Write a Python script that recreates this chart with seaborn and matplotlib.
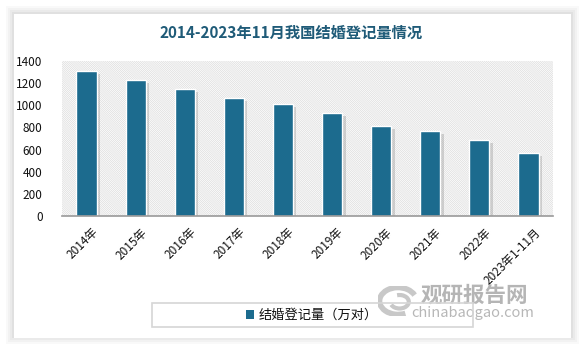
import matplotlib
matplotlib.use("Agg")
import matplotlib.pyplot as plt
import matplotlib.patheffects as pe
import matplotlib.transforms as mtransforms
from matplotlib.patches import Rectangle, Arc
import seaborn as sns
import pandas as pd

years = ["2014年", "2015年", "2016年", "2017年", "2018年", "2019年",
         "2020年", "2021年", "2022年", "2023年1-11月"]
marriages = [1306.7, 1224.7, 1142.8, 1063.1, 1013.9, 927.3, 814.3, 764.3, 683.5, 569.0]
series_name = "结婚登记量（万对）"
title = "2014-2023年11月我国结婚登记量情况"
yticks = [0, 200, 400, 600, 800, 1000, 1200, 1400]

df = pd.DataFrame({"year": years, "value": marriages})

sns.set_theme(style="white")
plt.rcParams["font.family"] = ["Noto Sans CJK SC", "DejaVu Sans"]
plt.rcParams["hatch.color"] = "#dcdcdc"
plt.rcParams["hatch.linewidth"] = 0.5

W, H = 583, 349
fig = plt.figure(figsize=(W / 100, H / 100), dpi=100)
fig.patch.set_facecolor("white")

# card with soft shadow
for i, a in enumerate([0.05, 0.07, 0.09, 0.12]):
    d = (4 - i) * 2
    fig.patches.append(Rectangle(((14 - d) / W, (H - 340 - d + 4) / H), (557 + 2 * d) / W,
                                 (326 + 2 * d - 4) / H, transform=fig.transFigure,
                                 facecolor="#9a9a9a", edgecolor="none", alpha=a, zorder=0))
fig.patches.append(Rectangle((14 / W, (H - 338) / H), 557 / W, 324 / H,
                             transform=fig.transFigure, facecolor="white",
                             edgecolor="none", zorder=1))

ax = fig.add_axes([62 / W, 1 - 216 / H, 491 / W, 155 / H])
ax.set_zorder(2)
ax.patch.set_alpha(0)

# hatched background
ax.add_patch(Rectangle((0, 0), 1, 1, transform=ax.transAxes, facecolor="white",
                       hatch="\\" * 16, edgecolor="#dcdcdc", linewidth=0, zorder=0))

bar_color = "#1c6b8e"
sns.barplot(data=df, x="year", y="value", color=bar_color, width=0.41,
            edgecolor="white", linewidth=1.0, label=series_name, ax=ax,
            saturation=1, zorder=3)
for p in ax.patches[1:]:
    p.set_path_effects([pe.SimplePatchShadow(offset=(2.5, -2), shadow_rgbFace="#808080",
                                             alpha=0.3), pe.Normal()])

ax.set_xlim(-0.5, len(years) - 0.5)
ax.set_ylim(0, 1400)
ax.set_yticks(yticks)
ax.set_yticklabels([str(v) for v in yticks], fontsize=8.5, color="#111111")
ax.tick_params(axis="y", length=0, pad=14)
ax.tick_params(axis="x", length=0, pad=7)
ax.set_xticks(range(len(years)))
ax.set_xticklabels(years, rotation=45, ha="right", va="top", rotation_mode="anchor",
                   fontsize=8.5, color="#111111")
shift = mtransforms.ScaledTranslation(5 / 100, 0, fig.dpi_scale_trans)
for lab in ax.get_xticklabels():
    lab.set_transform(lab.get_transform() + shift)
ax.set_xlabel("")
ax.set_ylabel("")
for s in ["left", "right", "top"]:
    ax.spines[s].set_visible(False)
ax.spines["bottom"].set_color("#999999")
ax.spines["bottom"].set_linewidth(1.2)
ax.spines["bottom"].set_zorder(5)

if ax.get_legend():
    ax.get_legend().remove()

fig.text(291.5 / W, 1 - 33 / H, title, ha="center", va="center", fontsize=11,
         fontweight="bold", color="#1f5b78", zorder=5)

# watermark
fig.text(474 / W, 1 - 295 / H, "观研报告网", ha="center", va="center", fontsize=15.5,
         fontweight="bold", color="#a8a8a8", alpha=0.85, zorder=3)
fig.text(473 / W, 1 - 313 / H, "chinabaogao.com", ha="center", va="center", fontsize=10.5,
         color="#b0b0b0", alpha=0.9, zorder=3)
ax_logo = fig.add_axes([378 / W, 1 - 316 / H, 40 / W, 30 / H])
ax_logo.set_zorder(3)
ax_logo.patch.set_alpha(0)
ax_logo.set_xlim(-1.3, 1.3)
ax_logo.set_ylim(-1.0, 1.0)
ax_logo.axis("off")
ax_logo.add_patch(Arc((0, 0), 2.4, 1.8, theta1=20, theta2=300, lw=4, color="#c8c8c8"))
ax_logo.add_patch(Arc((0.1, -0.05), 1.2, 0.9, theta1=200, theta2=110, lw=3, color="#c8c8c8"))

# legend box
fig.patches.append(Rectangle((152 / W, 1 - 327 / H), 321 / W, 24 / H, transform=fig.transFigure,
                             facecolor="none", edgecolor="#d6d6d6", linewidth=1.2, zorder=4))
handles = [Rectangle((0, 0), 1, 1, facecolor=bar_color, edgecolor="none")]
leg = fig.legend(handles, [series_name], loc="center", bbox_to_anchor=(312 / W, 1 - 315.5 / H),
                 frameon=False, fontsize=9.5, handlelength=0.6, handleheight=0.6,
                 handletextpad=0.3)
for t in leg.get_texts():
    t.set_color("#111111")

fig.savefig("out.png", dpi=100, facecolor=fig.get_facecolor())
